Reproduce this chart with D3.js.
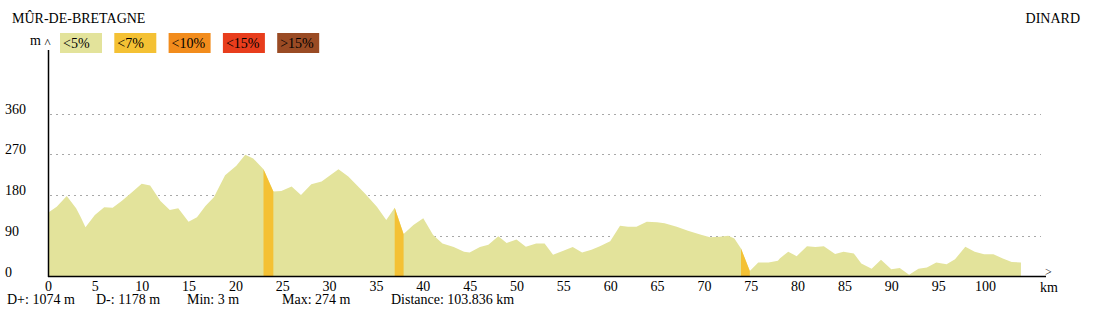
<!DOCTYPE html>
<html>
<head>
<meta charset="utf-8">
<script src="https://cdn.jsdelivr.net/npm/d3@7"></script>
<style>
  html, body { margin: 0; padding: 0; background: #fff; }
  svg { display: block; }
  svg text { font-family: "Liberation Serif", "DejaVu Serif", "Times New Roman", serif !important; fill: #000; }
</style>
</head>
<body>
<svg id="chart" width="1114" height="331"></svg>
<script>
// ---- data ----
const startName = "MÛR-DE-BRETAGNE";
const endName = "DINARD";
const legendLabels = ["<5%", "<7%", "<10%", "<15%", ">15%"];
const legendColors = ["#e3e39b", "#f4c134", "#f28c1c", "#e83d1c", "#9a4b24"];
const xTicks = [0,5,10,15,20,25,30,35,40,45,50,55,60,65,70,75,80,85,90,95,100];
const yTicks = [0, 90, 180, 270, 360];
const stats = ["D+: 1074 m", "D-: 1178 m", "Min: 3 m", "Max: 274 m", "Distance: 103.836 km"];

const km = [0, 0.93, 2.0, 3.0, 3.5, 4.0, 5.0, 6.0, 6.9, 7.86, 8.93, 10.0, 10.9, 12.0, 13.0, 13.9,
  15.0, 15.9, 16.8, 17.7, 18.9, 20.1, 21.05, 21.9, 23.0, 24.05, 24.9, 26.0, 27.0, 28.1, 29.2,
  31.0, 32.05, 33.8, 35.1, 36.1, 37.0, 37.95, 39.0, 40.05, 41.1, 42.1, 43.3, 44.4, 45.0, 46.1,
  47.0, 48.06, 48.95, 50.0, 51.0, 52.1, 53.0, 53.9, 55.0, 56.0, 57.0, 58.0, 58.9, 60.0, 61.05,
  61.9, 62.8, 63.9, 65.0, 65.8, 67.1, 68.3, 69.6, 70.65, 71.7, 72.6, 73.25, 73.96, 74.9, 75.8,
  76.9, 77.9, 78.1, 79.0, 79.9, 81.0, 81.9, 82.8, 84.0, 84.9, 86.0, 86.8, 87.9, 88.9, 90.0,
  90.9, 91.9, 92.9, 93.8, 94.8, 95.9, 96.8, 97.9, 98.9, 99.9, 100.9, 101.9, 102.85, 103.836];
const elev = [141, 154, 178, 151, 131, 109, 136, 153, 152, 167, 186, 205, 201, 167, 147, 151,
  121, 131, 156, 175, 224, 245, 269, 261, 237, 188, 189, 199, 180, 204, 210,
  237, 221, 184, 154, 125, 152, 94, 114, 129, 92, 73, 65, 55, 53, 65,
  70, 89, 74, 82, 66, 73, 73, 48, 57, 65, 53, 59, 67, 78, 112,
  110, 110, 121, 120, 118, 110, 101, 93, 87, 88, 90, 84, 62, 12, 31,
  31, 35, 40, 55, 45, 67, 65, 67, 50, 55, 51, 29, 17, 37, 16,
  19, 4, 17, 20, 31, 27, 38, 66, 55, 49, 49, 40, 32, 31];
// segments (by starting point index) drawn in a steeper grade class
const steepStarts = [24, 36, 73];
const steepClass = [1, 1, 1];

// ---- layout ----
const svg = d3.select("#chart");
const x = d3.scaleLinear().domain([0, 100]).range([48, 985]);
const y = d3.scaleLinear().domain([0, 360]).range([276.5, 113.7]);
const pts = km.map((k, i) => ({ k, e: elev[i] }));

// grid
svg.append("g").selectAll("line").data(yTicks.filter(d => d > 0)).join("line")
  .attr("x1", 50).attr("x2", 1041)
  .attr("y1", d => Math.round(y(d)) + 0.5).attr("y2", d => Math.round(y(d)) + 0.5)
  .attr("stroke", "#a8a8a8").attr("stroke-width", 1).attr("stroke-dasharray", "2,4");

// profile
const area = d3.area().x(d => x(d.k)).y0(y(0)).y1(d => y(d.e));
svg.append("path").datum(pts).attr("d", area).attr("fill", legendColors[0]);
steepStarts.forEach((s, j) => {
  svg.append("path").datum(pts.slice(s, s + 2)).attr("d", area)
    .attr("fill", legendColors[steepClass[j]]);
});

// axes lines
svg.append("line").attr("x1", 48.5).attr("x2", 48.5).attr("y1", 50).attr("y2", 277)
  .attr("stroke", "#000").attr("stroke-width", 1.5);
svg.append("line").attr("x1", 48).attr("x2", 1046).attr("y1", 276.5).attr("y2", 276.5)
  .attr("stroke", "#000").attr("stroke-width", 1.5);
svg.append("text").attr("x", 1045).attr("y", 276).attr("font-size", 12).text(">");
svg.append("text").attr("x", 1049).attr("y", 292).attr("text-anchor", "middle").attr("font-size", 14).text("km");
svg.append("text").attr("x", 30).attr("y", 45).attr("font-size", 14).text("m");
svg.append("text").attr("x", 44.5).attr("y", 47).attr("font-size", 13).text("^");

// x axis labels
const xAxis = d3.axisBottom(x).tickValues(xTicks).tickSize(0).tickPadding(0).tickFormat(d3.format("d"));
const gx = svg.append("g").attr("transform", "translate(0,280)").call(xAxis);
gx.select(".domain").remove();
gx.selectAll("text").attr("font-size", 14).attr("fill", "#000").attr("dy", "0.78em");

// y axis labels
const yAxis = d3.axisLeft(y).tickValues(yTicks).tickSize(0).tickPadding(0);
const gy = svg.append("g").attr("transform", "translate(5,0)").call(yAxis);
gy.select(".domain").remove();
gy.selectAll("text").attr("font-size", 14).attr("fill", "#000")
  .attr("text-anchor", "start").attr("dy", "-0.5");

// titles
svg.append("text").attr("x", 12).attr("y", 23).attr("font-size", 14).text(startName);
svg.append("text").attr("x", 1080).attr("y", 23).attr("font-size", 14).attr("text-anchor", "end").text(endName);

// legend
const lg = svg.append("g").selectAll("g").data(legendLabels).join("g")
  .attr("transform", (d, i) => `translate(${60 + i * 54.3},33)`);
lg.append("rect").attr("width", 42).attr("height", 20).attr("fill", (d, i) => legendColors[i]);
lg.append("text").attr("x", 3).attr("y", 15).attr("font-size", 14).text(d => d);

// stats
const statX = [7, 96, 187, 282, 391];
svg.append("g").selectAll("text").data(stats).join("text")
  .attr("x", (d, i) => statX[i]).attr("y", 304).attr("font-size", 14).text(d => d);
</script>
</body>
</html>
